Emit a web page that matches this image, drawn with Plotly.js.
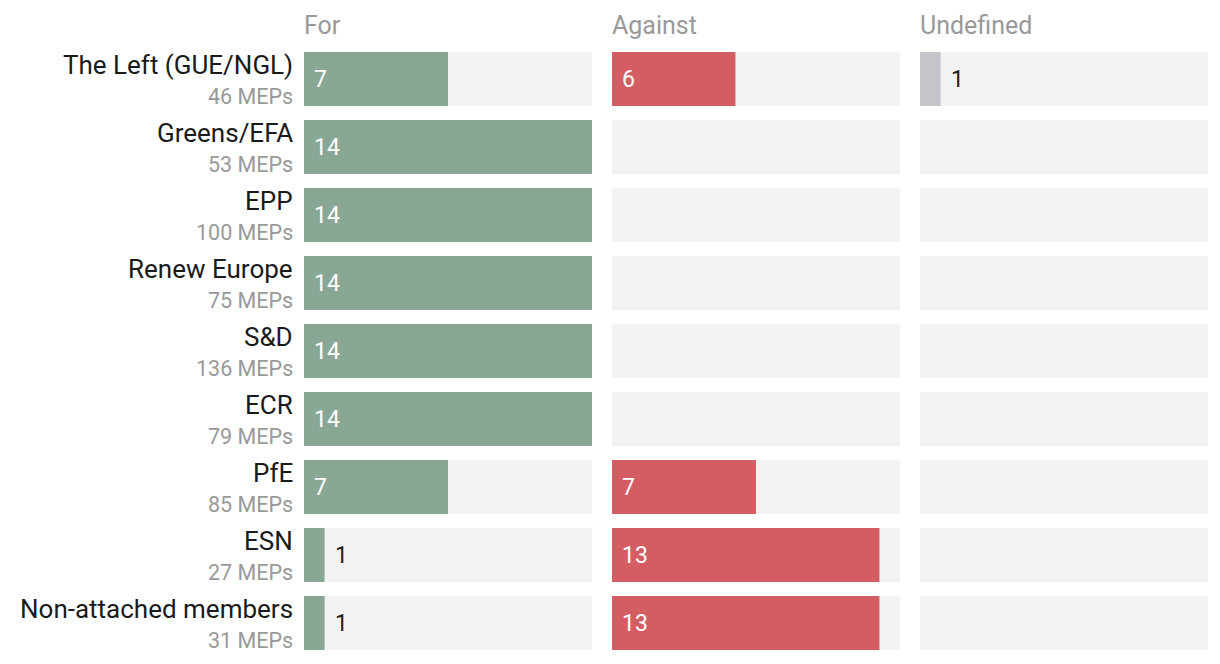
<!DOCTYPE html>
<html>
<head>
<meta charset="utf-8">
<script src="https://cdn.plot.ly/plotly-3.0.1.min.js"></script>
<style>html,body{margin:0;padding:0;background:#fff;}#chart{width:1220px;height:664px;}</style>
</head>
<body>
<div id="chart"></div>
<script>
const parties = ["The Left (GUE/NGL)", "Greens/EFA", "EPP", "Renew Europe", "S&D", "ECR", "PfE", "ESN", "Non-attached members"];
const meps = [46, 53, 100, 75, 136, 79, 85, 27, 31];
const forVotes = [7, 14, 14, 14, 14, 14, 7, 1, 1];
const againstVotes = [6, 0, 0, 0, 0, 0, 7, 13, 13];
const undefinedVotes = [1, 0, 0, 0, 0, 0, 0, 0, 0];
const panelTitles = ["For", "Against", "Undefined"];

const series = [forVotes, againstVotes, undefinedVotes];
const colors = ["#89a795", "#d45d63", "#c4c5ca"];
const axes = ["x", "x2", "x3"];
const totals = parties.map((p, i) => forVotes[i] + againstVotes[i] + undefinedVotes[i]);
const maxTotal = Math.max(...totals);

const FONT = "Roboto, 'Noto Sans', sans-serif";
const traces = [];
const annotations = [];

series.forEach((vals, k) => {
  traces.push({
    type: "bar", orientation: "h", x: totals, y: parties,
    xaxis: axes[k], yaxis: "y",
    marker: {color: "#f2f2f2", line: {width: 0}},
    hoverinfo: "skip", showlegend: false
  });
  traces.push({
    type: "bar", orientation: "h", x: vals, y: parties,
    xaxis: axes[k], yaxis: "y",
    marker: {color: colors[k], line: {width: 0}},
    showlegend: false
  });
  annotations.push({
    text: panelTitles[k], xref: axes[k] + " domain", yref: "paper",
    x: 0, y: 1, xanchor: "left", yanchor: "middle", xshift: -2, yshift: 20,
    showarrow: false, font: {family: FONT, size: 25, color: "#999999"}
  });
  vals.forEach((v, i) => {
    if (v <= 0) return;
    const inside = v >= 2;
    annotations.push({
      text: String(v), xref: axes[k], yref: "y",
      x: inside ? 0 : v, y: parties[i],
      xanchor: "left", yanchor: "middle",
      xshift: 8,
      showarrow: false,
      font: {family: FONT, size: 23, color: inside ? "#ffffff" : "#222222"}
    });
  });
});

parties.forEach((p, i) => {
  annotations.push({
    text: p, xref: "paper", yref: "y", x: 0, y: p,
    xanchor: "right", yanchor: "middle", xshift: -9, yshift: 14,
    showarrow: false, font: {family: FONT, size: 26, color: "#1a1a1a"}
  });
  annotations.push({
    text: meps[i] + " MEPs", xref: "paper", yref: "y", x: 0, y: p,
    xanchor: "right", yanchor: "middle", xshift: -9, yshift: -17,
    showarrow: false, font: {family: FONT, size: 21.5, color: "#999999"}
  });
});

const xa = (dom) => ({
  domain: dom, range: [0, maxTotal], showgrid: false, zeroline: false,
  showticklabels: false, ticks: "", showline: false, fixedrange: true
});

const layout = {
  width: 1220, height: 664,
  margin: {l: 304, r: 12, t: 45, b: 7},
  paper_bgcolor: "#ffffff", plot_bgcolor: "#ffffff",
  barmode: "overlay", bargap: 0.206,
  font: {family: FONT},
  xaxis: xa([0, 288 / 904]),
  xaxis2: xa([308 / 904, 596 / 904]),
  xaxis3: xa([616 / 904, 1]),
  yaxis: {
    type: "category", categoryorder: "array", categoryarray: parties,
    autorange: "reversed", showticklabels: false, showgrid: false,
    zeroline: false, ticks: "", fixedrange: true
  },
  annotations: annotations
};

Plotly.newPlot("chart", traces, layout, {displayModeBar: false, staticPlot: true});
</script>
</body>
</html>
